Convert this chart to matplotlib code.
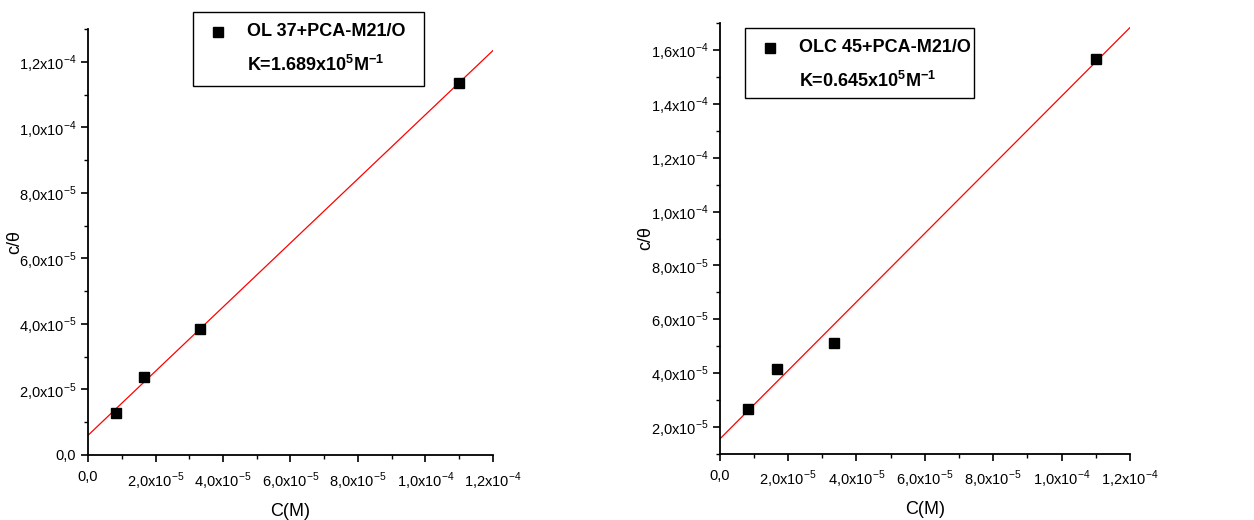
import numpy as np
import matplotlib
matplotlib.use("Agg")
import matplotlib.pyplot as plt
from matplotlib.ticker import MultipleLocator, FuncFormatter
from matplotlib.patches import Rectangle
from matplotlib.lines import Line2D

plt.rcParams['font.family'] = ['Liberation Sans', 'DejaVu Sans']
plt.rcParams['mathtext.fontset'] = 'custom'
plt.rcParams['mathtext.rm'] = 'Liberation Sans'
plt.rcParams['mathtext.bf'] = 'Liberation Sans:bold'

# data (C in M, c/theta)
conc = [8.33e-6, 1.667e-5, 3.333e-5, 1.10e-4]
y_ol37 = [1.29e-5, 2.39e-5, 3.84e-5, 1.136e-4]
y_olc45 = [2.67e-5, 4.15e-5, 5.13e-5, 1.569e-4]

names = ["OL 37+PCA-M21/O", "OLC 45+PCA-M21/O"]
k_labels = [r"K=1.689x10$^{\mathbf{5}}$M$^{\mathbf{-1}}$",
            r"K=0.645x10$^{\mathbf{5}}$M$^{\mathbf{-1}}$"]


def sci_fmt(v, pos):
    if abs(v) < 1e-12:
        return "0,0"
    exp = int(np.floor(np.log10(abs(v))))
    mant = v / 10 ** exp
    return (r"%.1f" % mant).replace(".", ",") + r"x10$^{%d}$" % exp


fig = plt.figure(figsize=(12.54, 5.2), dpi=100)
ax1 = fig.add_axes([0.0702, 0.125, 0.3229, 0.819])
ax2 = fig.add_axes([0.574, 0.1275, 0.327, 0.8275])

setups = [
    (ax1, y_ol37, (0, 1.3e-4)),
    (ax2, y_olc45, (1.0e-5, 1.7e-4)),
]

for ax, yv, ylim in setups:
    slope, icpt = np.polyfit(conc, yv, 1)
    xl = np.array([0, 1.2e-4])
    ax.plot(xl, icpt + slope * xl, color='red', lw=0.9)
    ax.plot(conc, yv, 's', color='black', ms=7, zorder=3)
    ax.set_xlim(0, 1.2e-4)
    ax.set_ylim(*ylim)
    for s in ['top', 'right']:
        ax.spines[s].set_visible(False)
    for s in ['left', 'bottom']:
        ax.spines[s].set_linewidth(1.3)
    ax.xaxis.set_major_locator(MultipleLocator(2e-5))
    ax.xaxis.set_minor_locator(MultipleLocator(1e-5))
    ax.yaxis.set_major_locator(MultipleLocator(2e-5))
    ax.yaxis.set_minor_locator(MultipleLocator(1e-5))
    ax.xaxis.set_major_formatter(FuncFormatter(sci_fmt))
    ax.yaxis.set_major_formatter(FuncFormatter(sci_fmt))
    ax.tick_params(which='major', direction='out', length=5, width=1.2, labelsize=10.5)
    ax.tick_params(which='minor', direction='out', length=3, width=1.0)
    ax.tick_params(axis='x', pad=6)
    ax.set_xlabel("C(M)", fontsize=13, labelpad=8)
    ax.set_ylabel("c/θ", fontsize=13)
    ax.yaxis.set_label_coords(-0.16, 0.5)

# legend boxes drawn in figure pixels
W, H = 1254, 520
boxes = [(193, 12, 424, 86), (745, 28, 974, 98)]
for (x0, y0, x1, y1), name, klab in zip(boxes, names, k_labels):
    fig.patches.append(Rectangle((x0 / W, 1 - y1 / H), (x1 - x0) / W, (y1 - y0) / H,
                                 transform=fig.transFigure, fill=False,
                                 edgecolor='black', lw=1.0))
    fig.add_artist(Line2D([(x0 + 25) / W], [1 - (y0 + 20) / H], marker='s',
                          color='black', ms=7, transform=fig.transFigure))
    fig.text((x0 + 54) / W, 1 - (y0 + 20) / H, name, fontsize=13,
             fontweight='bold', va='center', ha='left')
    fig.text((x0 + 54) / W, 1 - (y0 + 53) / H, klab, fontsize=13,
             fontweight='bold', va='center', ha='left')

fig.savefig("out.png", dpi=100)
